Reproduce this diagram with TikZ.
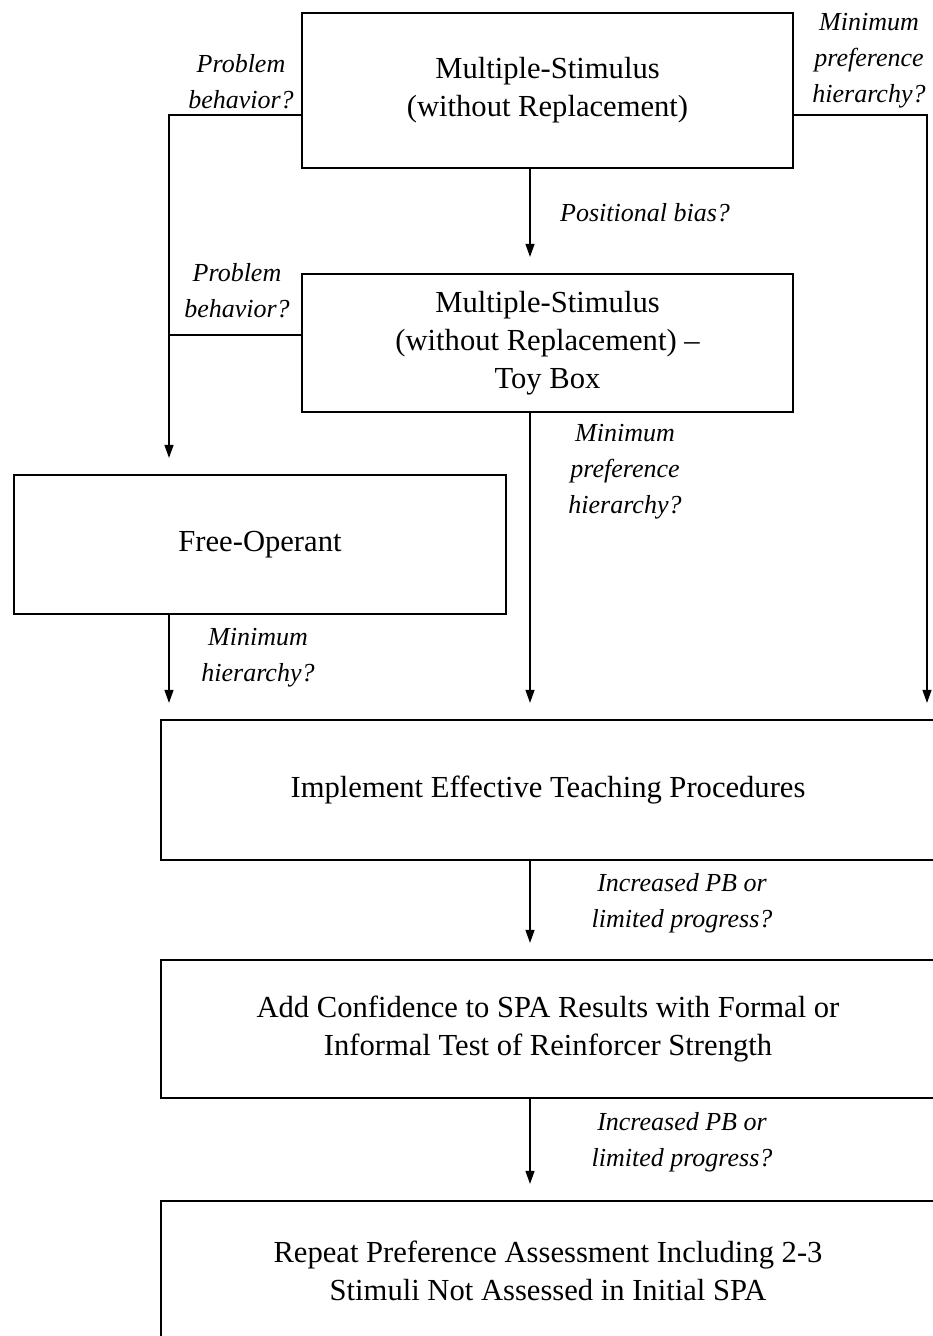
\documentclass[tikz,border=0pt]{standalone}
\usepackage{fontspec}
\setmainfont{Liberation Serif}
\usepackage{tikz}
\tikzset{
  block_font/.style = {font=\fontsize{15.3}{19}\selectfont},
  question_font/.style = {font=\fontsize{13}{18}\selectfont\itshape},
  box_line/.style = {line width=1.1pt}
}
\tikzset{
  block/.style = {block_font, align=center, draw, box_line, inner sep=0},
  question/.style = {question_font, align=center, inner sep=0},
  flow/.style = {->, line width=0.6pt, shorten >=8pt},
  joint/.style = {line width=0.6pt}
}
\usetikzlibrary{arrows.meta, positioning}

\begin{document}
\begin{tikzpicture}[x=0.5pt, y=-0.5pt,
            >={Triangle[width=4.5pt, length=6.5pt]},
            % every node/.style={draw}
            ]
        \useasboundingbox (0,0) rectangle (932,1336);

        % Assessments
        \node[block, minimum width=245.5pt, minimum height=77.5pt] at (547.5,90.5) (mswo) {
            Multiple-Stimulus \\ (without Replacement)};
        \node[block, minimum width=245.5pt, minimum height=69pt] at (547.5,343) (toy_box) {
            Multiple-Stimulus \\ (without Replacement) -- \\ Toy Box};
        \node[block, minimum width=246pt, minimum height=69.5pt] at (260,544.5) (free_op) {
            Free-Operant};

        % Follow-up steps
        \node[block, minimum width=387pt, minimum height=70pt] at (548,790) (teach) {
            Implement Effective Teaching Procedures};
        \node[block, minimum width=387pt, minimum height=69pt] at (548,1029) (confidence) {
            Add Confidence to SPA Results with Formal or \\
            Informal Test of Reinforcer Strength};
        \node[block, minimum width=387pt, minimum height=70pt] at (548,1271) (repeat) {
            Repeat Preference Assessment Including 2-3 \\
            Stimuli Not Assessed in Initial SPA};

        % Questions
        \node[question] at (241,82) (pb_top) {Problem \\ behavior?};
        \node[question] at (237,291) (pb_toy) {Problem \\ behavior?};
        \node[question] at (869,61) (mph_top) {Minimum \\ preference \\ hierarchy?};
        \node[question] at (645,213) (pos_bias) {Positional bias?};
        \node[question] at (625,472) (mph_toy) {Minimum \\ preference \\ hierarchy?};
        \node[question] at (258,658) (mh_free) {Minimum \\ hierarchy?};
        \node[question] at (682,903) (inc_teach) {Increased PB or \\ limited progress?};
        \node[question] at (682,1142) (inc_conf) {Increased PB or \\ limited progress?};

        % Turning points
        \coordinate (left_top) at (169,115);
        \coordinate (left_toy) at (169,335);
        \coordinate (right_top) at (927,115);
        \coordinate (spine) at (530,0);

        % Arrows and lines
        \draw[flow] (mswo.west |- left_top)--(left_top)--(free_op.north -| left_top);
        \draw[joint] (toy_box.west |- left_toy)--(left_toy);
        \draw[flow] (mswo.east |- right_top)--(right_top)--(teach.north -| right_top);

        \draw[flow] (mswo.south -| spine)--(toy_box.north -| spine);
        \draw[flow] (toy_box.south -| spine)--(teach.north -| spine);
        \draw[flow] (free_op.south -| left_top)--(teach.north -| left_top);
        \draw[flow] (teach.south -| spine)--(confidence.north -| spine);
        \draw[flow] (confidence.south -| spine)--(repeat.north -| spine);
    \end{tikzpicture}
\end{document}
